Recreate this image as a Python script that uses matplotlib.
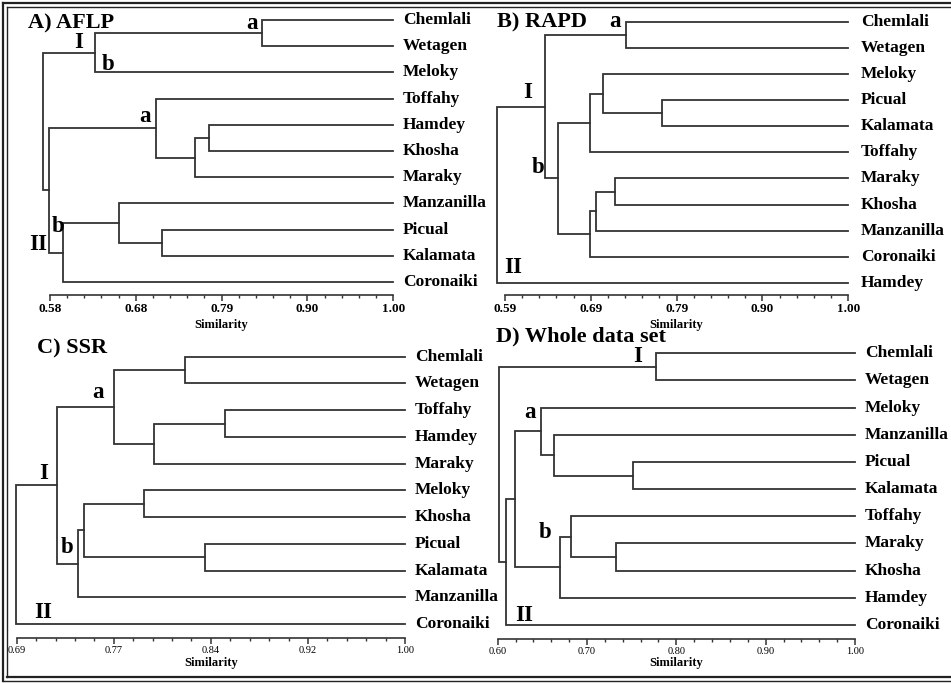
import matplotlib
matplotlib.use("Agg")
import matplotlib.pyplot as plt
import numpy as np
from matplotlib.lines import Line2D

plt.rcParams['font.family'] = ['Liberation Serif', 'DejaVu Serif']

W, H = 951, 683
LC = '#333333'

# ---- data: leaf order and merges (child_a, child_b, similarity) ----
A_leaves = ["Chemlali", "Wetagen", "Meloky", "Toffahy", "Hamdey", "Khosha",
            "Maraky", "Manzanilla", "Picual", "Kalamata", "Coronaiki"]
A_merges = [(0, 1, 0.839), (11, 2, 0.635), (4, 5, 0.774), (13, 6, 0.757),
            (3, 14, 0.710), (8, 9, 0.717), (7, 16, 0.664), (17, 10, 0.596),
            (15, 18, 0.579), (12, 19, 0.572)]
A_ticks = ["0.58", "0.68", "0.79", "0.90", "1.00"]

B_leaves = ["Chemlali", "Wetagen", "Meloky", "Picual", "Kalamata", "Toffahy",
            "Maraky", "Khosha", "Manzanilla", "Coronaiki", "Hamdey"]
B_merges = [(0, 1, 0.735), (3, 4, 0.778), (2, 12, 0.707), (13, 5, 0.692),
            (6, 7, 0.721), (15, 8, 0.699), (16, 9, 0.691), (14, 17, 0.653),
            (11, 18, 0.638), (19, 10, 0.581)]
B_ticks = ["0.59", "0.69", "0.79", "0.90", "1.00"]

C_leaves = ["Chemlali", "Wetagen", "Toffahy", "Hamdey", "Maraky", "Meloky",
            "Khosha", "Picual", "Kalamata", "Manzanilla", "Coronaiki"]
C_merges = [(0, 1, 0.824), (2, 3, 0.856), (12, 4, 0.800), (11, 13, 0.768),
            (5, 6, 0.792), (7, 8, 0.840), (15, 16, 0.744), (17, 9, 0.739),
            (14, 18, 0.722), (19, 10, 0.6895)]
C_ticks = ["0.69", "0.77", "0.84", "0.92", "1.00"]

D_leaves = ["Chemlali", "Wetagen", "Meloky", "Manzanilla", "Picual", "Kalamata",
            "Toffahy", "Maraky", "Khosha", "Hamdey", "Coronaiki"]
D_merges = [(0, 1, 0.777), (4, 5, 0.751), (3, 12, 0.663), (2, 13, 0.649),
            (7, 8, 0.732), (6, 15, 0.682), (16, 9, 0.670), (14, 17, 0.619),
            (18, 10, 0.609), (11, 19, 0.6015)]
D_ticks = ["0.60", "0.70", "0.80", "0.90", "1.00"]

# cluster letters: (text, similarity, leaf-row baseline)
A_marks = [("a", 0.8276, 0.36), ("I", 0.6147, 1.08), ("b", 0.6514, 1.91),
           ("a", 0.6963, 3.88), ("b", 0.5894, 8.10), ("II", 0.5653, 8.78)]
B_marks = [("a", 0.7213, 0.22), ("I", 0.6175, 2.93), ("b", 0.6298, 5.80),
           ("II", 0.6003, 9.63)]
C_marks = [("a", 0.7549, 1.56), ("I", 0.7113, 4.59), ("b", 0.7302, 7.33),
           ("II", 0.7113, 9.79)]
D_marks = [("I", 0.7571, 0.32), ("a", 0.6366, 2.39), ("b", 0.6533, 6.81),
           ("II", 0.6295, 9.85)]

fig = plt.figure(figsize=(W / 100, H / 100), dpi=100)


def panel(leaves, merges, ticks, marks, title, pL, pR, ax_y, yT, yB,
          title_xy, lab_off, tick_fs, tick_bold, sim_y):
    n = len(leaves)
    d = (yB - yT) / (n - 1)
    top_px = yT - 15
    ax = fig.add_axes([pL / W, 1 - ax_y / H, (pR - pL) / W, (ax_y - top_px) / H])
    vL = float(ticks[0])
    ax.set_xlim(vL, 1.0)
    ax.set_ylim((ax_y - yT) / d, (top_px - yT) / d)

    pos = {i: (1.0, float(i)) for i in range(n)}
    for k, (a, b, h) in enumerate(merges):
        xa, ya = pos[a]
        xb, yb = pos[b]
        ax.plot([xa, h, h, xb], [ya, ya, yb, yb], color=LC, lw=1.3,
                solid_joinstyle='miter', clip_on=False)
        pos[n + k] = (h, (ya + yb) / 2)

    for i, name in enumerate(leaves):
        ax.annotate(name, (1.0, i), xytext=(lab_off, 0), textcoords='offset points',
                    ha='left', va='center', fontsize=12.5, fontweight='bold',
                    annotation_clip=False)

    for txt, s, yy in marks:
        ax.text(s, yy, txt, ha='center', va='baseline', fontsize=16.5,
                fontweight='bold', clip_on=False)

    for sp in ['left', 'top', 'right']:
        ax.spines[sp].set_visible(False)
    ax.spines['bottom'].set_color(LC)
    ax.spines['bottom'].set_linewidth(1.2)
    ax.set_yticks([])
    ax.set_xticks(np.linspace(vL, 1.0, 5))
    ax.set_xticks(np.linspace(vL, 1.0, 21), minor=True)
    ax.set_xticklabels(ticks, fontsize=tick_fs,
                       fontweight='bold' if tick_bold else 'normal')
    ax.tick_params(axis='x', which='major', length=4, width=1.1, color=LC, pad=1.5)
    ax.tick_params(axis='x', which='minor', length=2.5, width=1.0, color=LC)
    ax.patch.set_alpha(0)

    fig.text((pL + pR) / 2 / W, 1 - sim_y / H, "Similarity", ha='center',
             va='center', fontsize=9, fontweight='bold')
    fig.text(title_xy[0] / W, 1 - title_xy[1] / H, title, ha='left',
             va='baseline', fontsize=16, fontweight='bold')


panel(A_leaves, A_merges, A_ticks, A_marks, "A) AFLP", 50, 393.3, 295, 20, 282,
      (28, 28), 7, 9.5, True, 325)
panel(B_leaves, B_merges, B_ticks, B_marks, "B) RAPD", 505, 848.3, 295, 21.7, 283,
      (496.7, 27.3), 9, 9.5, True, 325)
panel(C_leaves, C_merges, C_ticks, C_marks, "C) SSR", 16.7, 405, 638.3, 356.7, 624,
      (37, 353), 7, 7.5, False, 663)
panel(D_leaves, D_merges, D_ticks, D_marks, "D) Whole data set", 497.7, 855, 639.3,
      353.3, 625, (495.7, 341), 7, 7.5, False, 663)

# double frame on left, top and bottom
def fline(x0, y0, x1, y1, lw):
    fig.add_artist(Line2D([x0 / W, x1 / W], [1 - y0 / H, 1 - y1 / H],
                          color='#222222', lw=lw, transform=fig.transFigure))

fline(2.5, 3, W, 3, 1.6)
fline(6.5, 6.5, W, 6.5, 1.0)
fline(2.5, 3, 2.5, 680.5, 1.6)
fline(6.5, 6.5, 6.5, 677, 1.0)
fline(2.5, 680.5, W, 680.5, 1.0)
fline(6.5, 677, W, 677, 1.6)

fig.savefig("out.png", dpi=100)
